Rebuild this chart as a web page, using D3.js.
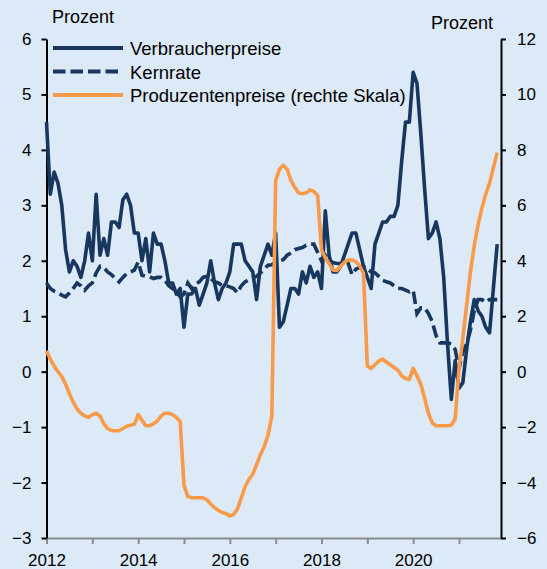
<!DOCTYPE html>
<html>
<head>
<meta charset="utf-8">
<script src="https://cdn.jsdelivr.net/npm/d3@7"></script>
<style>
  html, body { margin: 0; padding: 0; background: #dce9f7; }
  svg { display: block; font-family: "Liberation Sans", Arial, sans-serif; }
  .tick text { font-size: 17px; fill: #000; }
</style>
</head>
<body>
<div id="chart"></div>
<script>
// monthly data, Jan 2012 – Nov 2021 (percent, y/y)
const startYear = 2012;
const cpi = [
  4.5, 3.2, 3.6, 3.4, 3.0, 2.2, 1.8, 2.0, 1.9, 1.7, 2.0, 2.5,   // 2012
  2.0, 3.2, 2.1, 2.4, 2.1, 2.7, 2.7, 2.6, 3.1, 3.2, 3.0, 2.5,   // 2013
  2.5, 2.0, 2.4, 1.8, 2.5, 2.3, 2.3, 2.0, 1.6, 1.6, 1.4, 1.5,   // 2014
  0.8, 1.4, 1.4, 1.5, 1.2, 1.4, 1.6, 2.0, 1.6, 1.3, 1.5, 1.6,   // 2015
  1.8, 2.3, 2.3, 2.3, 2.0, 1.9, 1.8, 1.3, 1.9, 2.1, 2.3, 2.1,   // 2016
  2.5, 0.8, 0.9, 1.2, 1.5, 1.5, 1.4, 1.8, 1.6, 1.9, 1.7, 1.8,   // 2017
  1.5, 2.9, 2.1, 1.8, 1.8, 1.9, 2.1, 2.3, 2.5, 2.5, 2.2, 1.9,   // 2018
  1.7, 1.5, 2.3, 2.5, 2.7, 2.7, 2.8, 2.8, 3.0, 3.8, 4.5, 4.5,   // 2019
  5.4, 5.2, 4.3, 3.3, 2.4, 2.5, 2.7, 2.4, 1.7, 0.5, -0.5, 0.2,  // 2020
  -0.3, -0.2, 0.4, 0.9, 1.3, 1.1, 1.0, 0.8, 0.7, 1.5, 2.3       // 2021
];
const core = [
  1.6, 1.5, 1.45, 1.42, 1.38, 1.35, 1.42, 1.5, 1.6, 1.55, 1.47, 1.55,
  1.6, 1.78, 1.9, 1.88, 1.8, 1.75, 1.68, 1.62, 1.7, 1.77, 1.8, 1.83,
  1.98, 1.74, 1.72, 1.71, 1.68, 1.7, 1.7, 1.65, 1.55, 1.5, 1.44, 1.35,
  1.4, 1.6, 1.5, 1.58, 1.62, 1.7, 1.72, 1.68, 1.62, 1.6, 1.55, 1.55,
  1.53, 1.5, 1.42, 1.55, 1.62, 1.66, 1.69, 1.72, 1.78, 1.85, 1.92, 1.93,
  1.97, 2.0, 2.02, 2.1, 2.14, 2.2, 2.22, 2.24, 2.28, 2.3, 2.3, 2.15,
  2.0, 2.1, 2.0, 1.97, 1.95, 1.95, 1.95, 1.95, 1.75, 1.85, 1.88, 1.9,
  1.85, 1.8, 1.78, 1.72, 1.65, 1.62, 1.6, 1.55, 1.5, 1.5, 1.47, 1.44,
  1.47, 1.05, 1.15, 1.15, 1.05, 0.9, 0.65, 0.52, 0.52, 0.52, 0.5, 0.4,
  0.05, 0.35, 0.5, 0.75, 1.1, 1.3, 1.3, 1.25, 1.3, 1.3, 1.3
];
// producer prices, right-hand scale
const ppi = [
  0.75, 0.45, 0.2, 0.0, -0.18, -0.45, -0.8, -1.1, -1.35, -1.5, -1.6, -1.65,
  -1.55, -1.5, -1.6, -1.88, -2.05, -2.12, -2.13, -2.13, -2.05, -1.97, -1.93, -1.9,
  -1.55, -1.75, -1.95, -1.95, -1.88, -1.78, -1.6, -1.5, -1.5, -1.55, -1.65, -1.8,
  -4.1, -4.5, -4.55, -4.55, -4.55, -4.55, -4.62, -4.78, -4.9, -5.0, -5.08, -5.12,
  -5.2, -5.15, -4.95, -4.55, -4.15, -3.88, -3.7, -3.35, -3.0, -2.7, -2.3, -1.6,
  6.9, 7.3, 7.45, 7.3, 6.9, 6.65, 6.45, 6.42, 6.45, 6.56, 6.5, 6.35,
  4.4, 4.1, 3.9, 3.67, 3.65, 3.8, 3.95, 4.03, 4.03, 3.97, 3.82, 3.55,
  0.2, 0.12, 0.25, 0.38, 0.45, 0.35, 0.25, 0.15, 0.05, -0.15, -0.25, -0.28,
  0.12, -0.15, -0.45, -0.95, -1.5, -1.85, -1.95, -1.95, -1.95, -1.95, -1.93, -1.7,
  0.1, 1.2, 2.4, 3.6, 4.55, 5.3, 5.9, 6.4, 6.8, 7.35, 7.9
];
const leftTicks = [-3, -2, -1, 0, 1, 2, 3, 4, 5, 6];
const rightTicks = [-6, -4, -2, 0, 2, 4, 6, 8, 10, 12];
const yearTicks = [2012, 2013, 2014, 2015, 2016, 2017, 2018, 2019, 2020, 2021];
const legendItems = [
  { label: "Verbraucherpreise", key: "cpi" },
  { label: "Kernrate", key: "core" },
  { label: "Produzentenpreise (rechte Skala)", key: "ppi" }
];

const W = 547, H = 569;
const m = { top: 39, right: 46, bottom: 31, left: 46.5 };
const navy = "#17375e", orange = "#f99a48";

const svg = d3.select("#chart").append("svg").attr("width", W).attr("height", H);

const x = d3.scaleLinear().domain([startYear, 2021 + 11 / 12]).range([m.left, W - m.right]);
const yL = d3.scaleLinear().domain([-3, 6]).range([H - m.bottom, m.top]);
const yR = d3.scaleLinear().domain([-6, 12]).range([H - m.bottom, m.top]);
const t = (i) => startYear + i / 12;

// x axis (grey)
const gx = svg.append("g").attr("transform", `translate(0,${H - m.bottom})`)
  .call(d3.axisBottom(x).tickValues(yearTicks).tickSize(6).tickSizeOuter(0)
    .tickPadding(10).tickFormat((d) => (d % 2 === 0 ? d : "")));
gx.select(".domain").attr("stroke", "#8c8c8c").attr("stroke-width", 2);
gx.selectAll(".tick line").attr("stroke", "#8c8c8c").attr("stroke-width", 2);

// left axis
const gl = svg.append("g").attr("transform", `translate(${m.left},0)`)
  .call(d3.axisLeft(yL).tickValues(leftTicks).tickSize(5).tickSizeOuter(0).tickPadding(10));
gl.select(".domain").attr("stroke", "#000").attr("stroke-width", 2);
gl.selectAll(".tick line").attr("stroke", "#000").attr("stroke-width", 2);

// right axis
const gr = svg.append("g").attr("transform", `translate(${W - m.right},0)`)
  .call(d3.axisRight(yR).tickValues(rightTicks).tickSize(5).tickSizeOuter(0).tickPadding(11));
gr.select(".domain").attr("stroke", "#000").attr("stroke-width", 2);
gr.selectAll(".tick line").attr("stroke", "#000").attr("stroke-width", 2);

svg.selectAll(".domain").attr("d", function () {
  return d3.select(this).attr("d").replace(/V6|V-6|H6|H-6/g, "");
});

// unit labels
svg.append("text").attr("x", 52).attr("y", 23).attr("font-size", 18).text("Prozent");
svg.append("text").attr("x", 493).attr("y", 29).attr("font-size", 18)
  .attr("text-anchor", "end").text("Prozent");

// series
const lineL = d3.line().x((d, i) => x(t(i))).y((d) => yL(d));
const lineR = d3.line().x((d, i) => x(t(i))).y((d) => yR(d));

const styles = {
  cpi: { stroke: navy, dash: null },
  core: { stroke: navy, dash: "12.5,5" },
  ppi: { stroke: orange, dash: null }
};

svg.append("path").datum(core).attr("d", lineL)
  .attr("fill", "none").attr("stroke", navy).attr("stroke-width", 3.6)
  .attr("stroke-dasharray", styles.core.dash);
svg.append("path").datum(cpi).attr("d", lineL)
  .attr("fill", "none").attr("stroke", navy).attr("stroke-width", 3.6)
  .attr("stroke-linejoin", "round");
svg.append("path").datum(ppi).attr("d", lineR)
  .attr("fill", "none").attr("stroke", orange).attr("stroke-width", 3.6)
  .attr("stroke-linejoin", "round");

// legend
const lg = svg.append("g");
legendItems.forEach((it, k) => {
  const ly = 48 + k * 23.5;
  const st = styles[it.key];
  lg.append("line").attr("x1", 53).attr("x2", 123).attr("y1", ly).attr("y2", ly)
    .attr("stroke", st.stroke).attr("stroke-width", 4)
    .attr("stroke-dasharray", st.dash);
  lg.append("text").attr("x", 130).attr("y", ly + 7).attr("font-size", 18.5)
    .text(it.label);
});
</script>
</body>
</html>
